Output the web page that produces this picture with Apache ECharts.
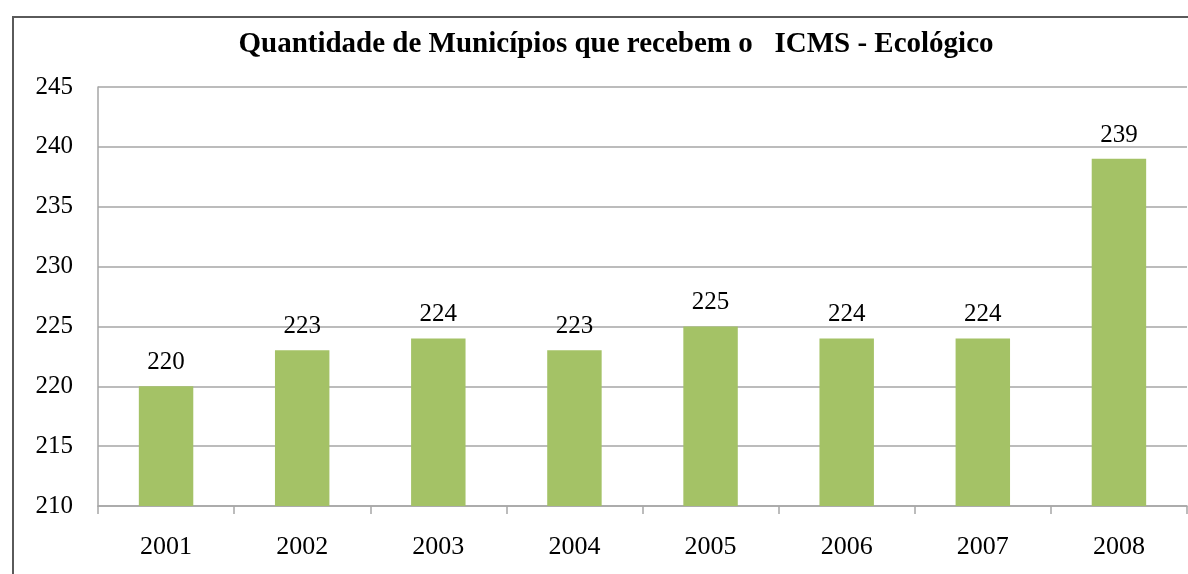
<!DOCTYPE html>
<html>
<head>
<meta charset="utf-8">
<script src="https://cdn.jsdelivr.net/npm/echarts@6/dist/echarts.min.js"></script>
<style>
  html, body { margin: 0; padding: 0; background: #fff; }
  #chart { width: 1188px; height: 574px; }
</style>
</head>
<body>
<div id="chart"></div>
<script>
const years = ["2001", "2002", "2003", "2004", "2005", "2006", "2007", "2008"];
const municipios = [220, 223, 224, 223, 225, 224, 224, 239];
const titleText = "Quantidade de Municípios que recebem o   ICMS - Ecológico";

const chart = echarts.init(document.getElementById("chart"));
const serif = "'Liberation Serif', 'Times New Roman', serif";

chart.setOption({
  animation: false,
  backgroundColor: "#fff",
  title: {
    text: titleText,
    left: 611,
    top: 25,
    textAlign: "center",
    textStyle: {
      fontFamily: serif,
      fontWeight: "bold",
      fontSize: 29,
      color: "#000",
    },
  },
  graphic: [
    {
      type: "rect",
      shape: { x: 13, y: 17, width: 1300, height: 700 },
      style: { fill: "none", stroke: "#5a5a5a", lineWidth: 2 },
      silent: true,
    },
  ],
  grid: { left: 98, right: 1, top: 87, bottom: 68, containLabel: false },
  xAxis: {
    type: "category",
    data: years,
    boundaryGap: true,
    axisLine: { lineStyle: { color: "#a6a6a6", width: 1.5 } },
    axisTick: { show: true, length: 8, lineStyle: { color: "#a6a6a6", width: 1.5 } },
    axisLabel: {
      color: "#000",
      fontFamily: serif,
      fontSize: 26,
      margin: 28,
    },
  },
  yAxis: {
    type: "value",
    min: 210,
    max: 245,
    interval: 5,
    axisLine: { show: true, lineStyle: { color: "#a6a6a6", width: 1.5 } },
    axisTick: { show: false },
    splitLine: { lineStyle: { color: "#a6a6a6", width: 1.5 } },
    axisLabel: {
      color: "#000",
      fontFamily: serif,
      fontSize: 25,
      margin: 25,
    },
  },
  series: [
    {
      type: "bar",
      data: municipios,
      barWidth: "40%",
      itemStyle: { color: "#a4c266" },
      label: {
        show: true,
        position: "top",
        distance: 11,
        color: "#000",
        fontFamily: serif,
        fontSize: 25,
      },
    },
  ],
});
</script>
</body>
</html>
